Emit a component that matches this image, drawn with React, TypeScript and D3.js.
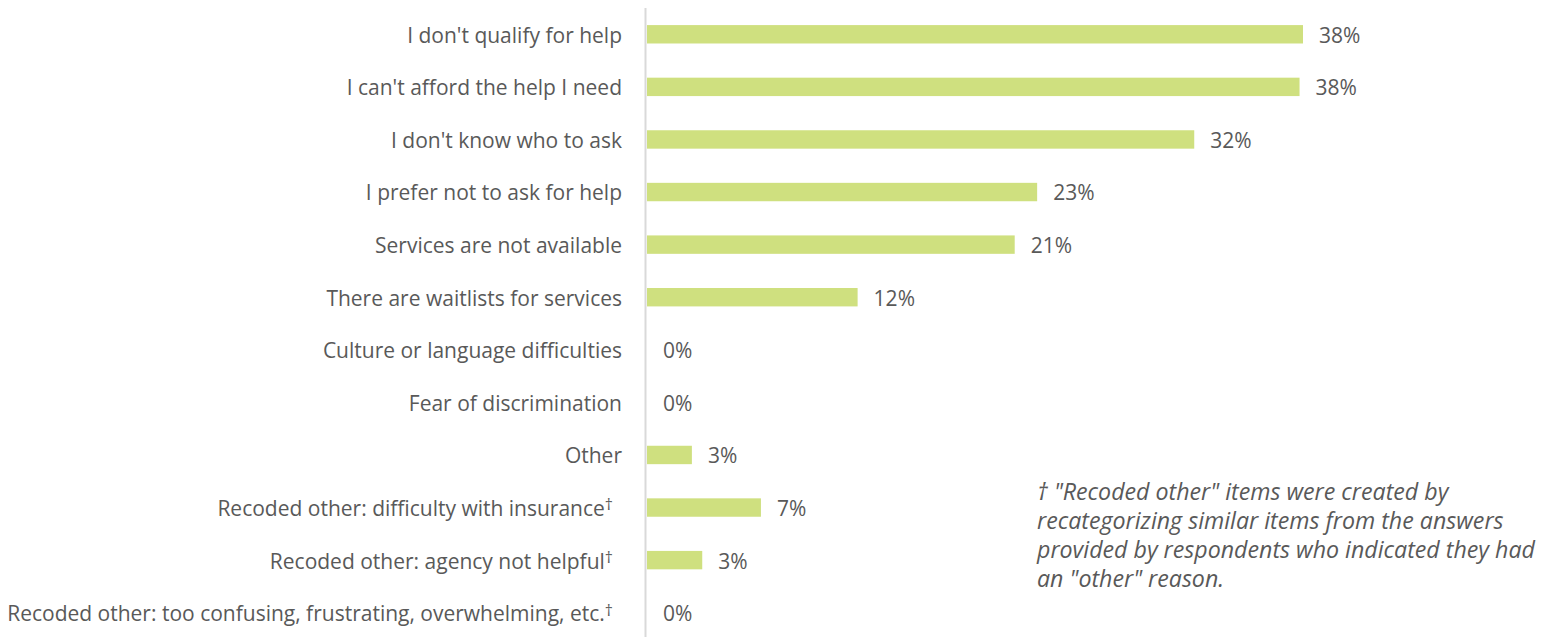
import React from "react";
import * as d3 from "d3";

const categories = [
  "I don't qualify for help",
  "I can't afford the help I need",
  "I don't know who to ask",
  "I prefer not to ask for help",
  "Services are not available",
  "There are waitlists for services",
  "Culture or language difficulties",
  "Fear of discrimination",
  "Other",
  "Recoded other: difficulty with insurance†",
  "Recoded other: agency not helpful†",
  "Recoded other: too confusing, frustrating, overwhelming, etc.†",
];
const values = [38.0, 37.8, 31.7, 22.6, 21.3, 12.2, 0, 0, 2.6, 6.6, 3.2, 0];
const footnoteLines = [
  "† \"Recoded other\" items were created by",
  "recategorizing similar items from the answers",
  "provided by respondents who indicated they had",
  "an \"other\" reason.",
];

const W = 1541;
const H = 637;
const FONT = "'Open Sans', sans-serif";
const TEXT = "#595959";
const BAR = "#cfe07f";

export default function App() {
  const x = d3.scaleLinear().domain([0, 38]).range([647, 1303]);
  const y = d3
    .scaleBand<string>()
    .domain(categories)
    .range([8, 639])
    .paddingInner(0.65)
    .paddingOuter(0.325);

  return (
    <svg
      width={W}
      height={H}
      style={{ position: "absolute", left: 0, top: 0, background: "#fff" }}
      fontFamily={FONT}
    >
      <line x1={645.5} x2={645.5} y1={8} y2={H} stroke="#d9d9d9" strokeWidth={2} />
      {categories.map((c, i) => {
        const yc = (y(c) as number) + y.bandwidth() / 2;
        const dag = c.endsWith("†");
        const base = dag ? c.slice(0, -1) : c;
        return (
          <g key={c}>
            <rect
              x={x(0)}
              y={y(c)}
              width={x(values[i]) - x(0)}
              height={y.bandwidth()}
              fill={BAR}
            />
            <text
              x={dag ? 613 : 622}
              y={yc}
              dy="0.4em"
              textAnchor="end"
              fontSize={21}
              fill={TEXT}
            >
              {base}
              {dag && (
                <tspan fontSize={16} dy="-0.35em">
                  †
                </tspan>
              )}
            </text>
            <text
              x={x(values[i]) + 16}
              y={yc}
              dy="0.4em"
              fontSize={21}
              fill={TEXT}
            >
              {Math.round(values[i])}%
            </text>
          </g>
        );
      })}
      {footnoteLines.map((l, i) => (
        <text
          key={i}
          x={1037}
          y={500 + i * 29}
          fontSize={23.2}
          fontStyle="italic"
          fill={TEXT}
          style={{ whiteSpace: "pre" }}
        >
          {l}
        </text>
      ))}
    </svg>
  );
}
